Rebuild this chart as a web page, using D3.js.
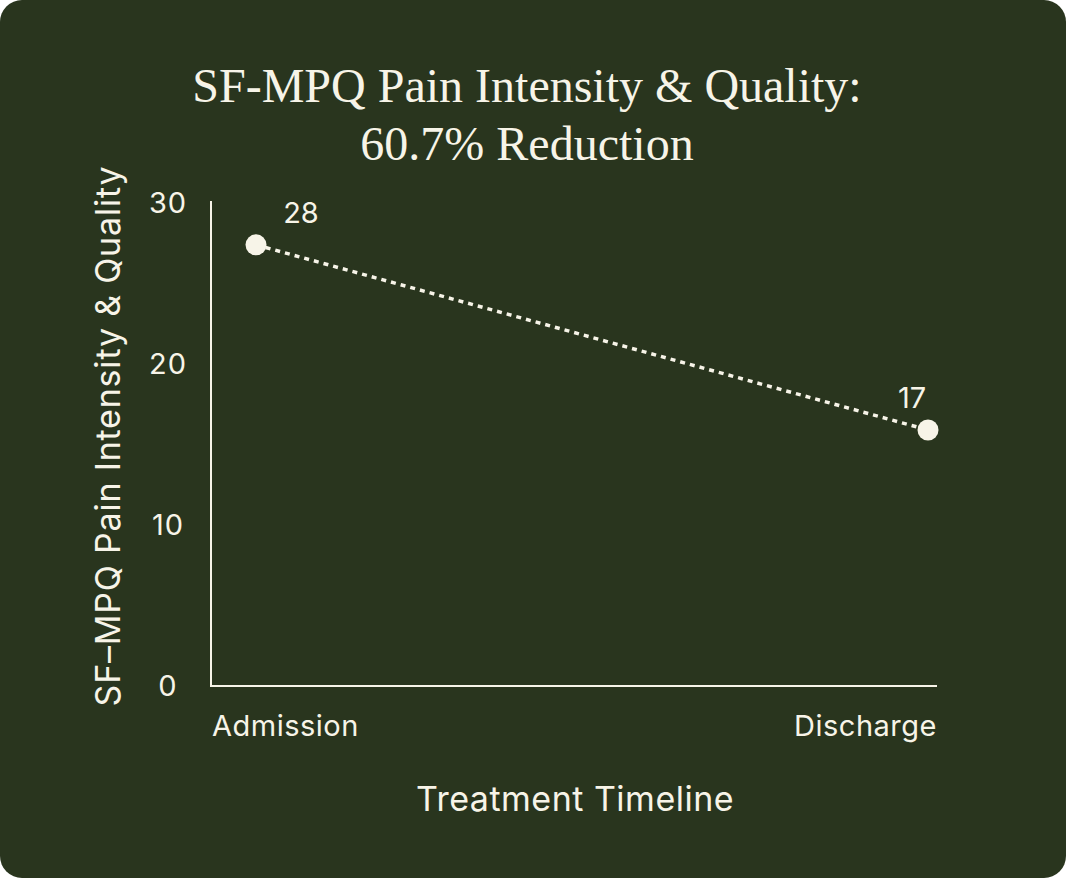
<!DOCTYPE html>
<html>
<head>
<meta charset="utf-8">
<script src="https://cdn.jsdelivr.net/npm/d3@7"></script>
<style>
  html, body { margin: 0; padding: 0; background: #ffffff; }
  svg { display: block; }
</style>
</head>
<body>
<svg id="mainsvg" width="1066" height="878"></svg>
<script>
const svg = d3.select('#mainsvg');
const width = +svg.attr('width');
const height = +svg.attr('height');

// data
const stages = ['Admission', 'Discharge'];
const scores = [27.4, 15.9];
const pointLabels = ['28', '17'];
const yTicks = [0, 10, 20, 30];
const titleLines = ['SF-MPQ Pain Intensity & Quality:', '60.7% Reduction'];

const bg = '#29351e';
const ink = '#f7f4e8';
const sans = 'Inter, "Open Sans", sans-serif';

svg.append('rect')
  .attr('width', width).attr('height', height)
  .attr('rx', 22).attr('fill', bg);

const axisLeft = 211, axisRight = 937;
const axisTop = 201, axisBottom = 686;

const yScale = d3.scaleLinear().domain([0, 30]).range([axisBottom, 203]);
const xScale = d3.scalePoint().domain(stages).range([256, 928]);

// title
svg.append('g').selectAll('text').data(titleLines).join('text')
  .attr('x', 527)
  .attr('y', (d, i) => 102 + i * 58)
  .attr('text-anchor', 'middle')
  .attr('fill', ink)
  .attr('font-family', '"Liberation Serif", serif')
  .attr('font-size', 48)
  .text(d => d);

// axes lines
svg.append('line')
  .attr('x1', axisLeft).attr('x2', axisLeft)
  .attr('y1', axisTop).attr('y2', axisBottom + 1)
  .attr('stroke', ink).attr('stroke-width', 2);
svg.append('line')
  .attr('x1', axisLeft - 1).attr('x2', axisRight)
  .attr('y1', axisBottom).attr('y2', axisBottom)
  .attr('stroke', ink).attr('stroke-width', 2);

// y tick labels
svg.append('g').selectAll('text').data(yTicks).join('text')
  .attr('x', 168)
  .attr('y', d => yScale(d))
  .attr('dy', '0.36em')
  .attr('text-anchor', 'middle')
  .attr('fill', ink)
  .attr('font-family', sans)
  .attr('font-size', 29)
  .attr('letter-spacing', 1)
  .text(d => d);

// x labels
svg.append('g').selectAll('text').data(stages).join('text')
  .attr('x', (d, i) => i === 0 ? axisLeft + 1 : axisRight)
  .attr('y', 736)
  .attr('text-anchor', (d, i) => i === 0 ? 'start' : 'end')
  .attr('fill', ink)
  .attr('font-family', sans)
  .attr('font-size', 29)
  .attr('letter-spacing', 0.5)
  .text(d => d);

// axis titles
svg.append('text')
  .attr('x', 575).attr('y', 811)
  .attr('text-anchor', 'middle')
  .attr('fill', ink)
  .attr('font-family', sans)
  .attr('font-size', 34)
  .attr('letter-spacing', 0.5)
  .text('Treatment Timeline');

svg.append('text')
  .attr('transform', `translate(120, ${(160 + 712) / 2}) rotate(-90)`)
  .attr('text-anchor', 'middle')
  .attr('fill', ink)
  .attr('font-family', sans)
  .attr('font-size', 34)
  .attr('letter-spacing', 0.8)
  .text('SF\u2013MPQ Pain Intensity & Quality');

// line + points
const pts = stages.map((s, i) => ({ stage: s, value: scores[i], label: pointLabels[i] }));

svg.append('path')
  .datum(pts)
  .attr('fill', 'none')
  .attr('stroke', ink)
  .attr('stroke-width', 3.5)
  .attr('stroke-dasharray', '5 5')
  .attr('d', d3.line().x(d => xScale(d.stage)).y(d => yScale(d.value)));

svg.append('g').selectAll('circle').data(pts).join('circle')
  .attr('cx', d => xScale(d.stage))
  .attr('cy', d => yScale(d.value))
  .attr('r', 10.5)
  .attr('fill', ink);

svg.append('g').selectAll('text').data(pts).join('text')
  .attr('x', (d, i) => i === 0 ? xScale(d.stage) + 45 : xScale(d.stage) - 16)
  .attr('y', d => yScale(d.value) - 22)
  .attr('text-anchor', 'middle')
  .attr('fill', ink)
  .attr('font-family', sans)
  .attr('font-size', 29)
  .text(d => d.label);
</script>
</body>
</html>
